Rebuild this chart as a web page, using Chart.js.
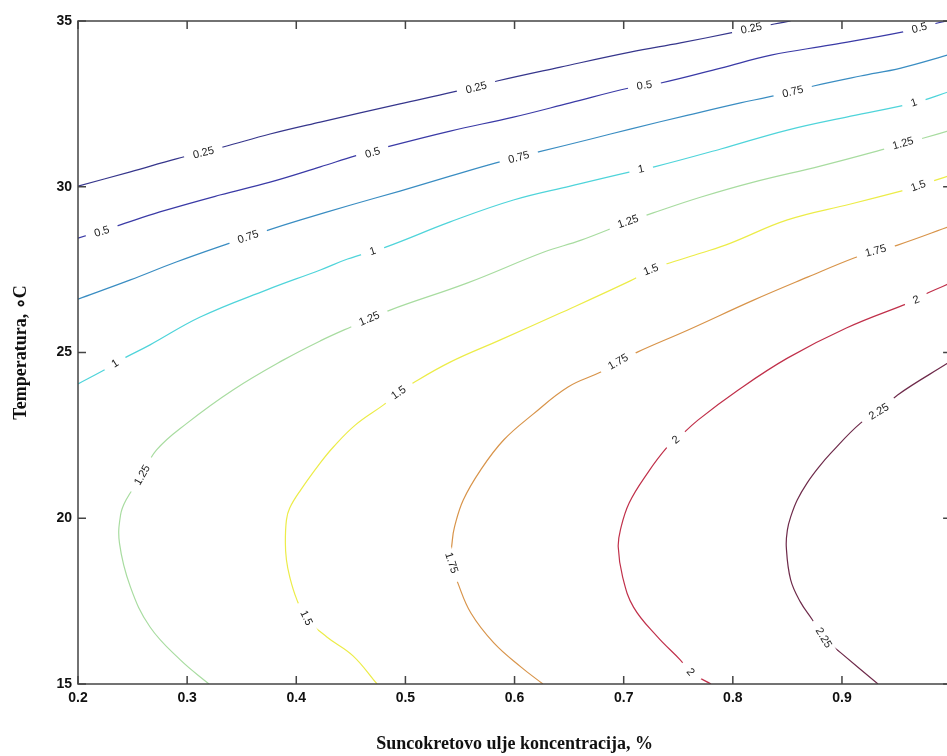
<!DOCTYPE html>
<html>
<head>
<meta charset="utf-8">
<script src="https://cdn.jsdelivr.net/npm/chart.js@4"></script>
<style>
  html, body { margin: 0; padding: 0; overflow: hidden; background: #fff; }
  canvas { display: block; }
</style>
</head>
<body>
<canvas id="myChart" width="961" height="756"></canvas>
<script>
// contour levels
var levels = ["0.25", "0.5", "0.75", "1", "1.25", "1.5", "1.75", "2", "2.25"];

// line points [concentration, temperature]
var c025 = [[0.200,30.02],[0.248,30.45],[0.290,30.84],[0.333,31.20],[0.376,31.59],[0.422,31.95],[0.495,32.50],[0.544,32.86],[0.584,33.19],[0.642,33.61],[0.706,34.06],[0.752,34.34],[0.798,34.64],[0.838,34.91],[0.853,35.0]];
var c05 = [[0.200,28.45],[0.236,28.82],[0.275,29.24],[0.330,29.75],[0.376,30.14],[0.422,30.60],[0.454,30.93],[0.483,31.20],[0.541,31.68],[0.599,32.10],[0.651,32.53],[0.705,32.98],[0.734,33.13],[0.789,33.58],[0.835,33.97],[0.890,34.28],[0.956,34.67],[0.984,34.91],[1.0,35.03]];
var c075 = [[0.200,26.61],[0.248,27.19],[0.290,27.73],[0.339,28.30],[0.375,28.70],[0.404,29.00],[0.450,29.45],[0.495,29.87],[0.541,30.32],[0.583,30.72],[0.622,31.05],[0.670,31.44],[0.706,31.74],[0.759,32.16],[0.807,32.53],[0.833,32.71],[0.874,33.04],[0.917,33.34],[0.954,33.58],[1.0,34.00]];
var c1 = [[0.200,24.05],[0.229,24.56],[0.239,24.77],[0.266,25.23],[0.312,26.07],[0.373,26.89],[0.422,27.49],[0.447,27.82],[0.482,28.18],[0.541,28.94],[0.599,29.60],[0.651,30.02],[0.706,30.45],[0.728,30.60],[0.789,31.14],[0.850,31.71],[0.908,32.13],[0.966,32.53],[1.0,32.89]];
var c125 = [[0.320,15.0],[0.294,15.72],[0.266,16.72],[0.248,17.93],[0.238,19.25],[0.239,20.10],[0.244,20.55],[0.257,21.21],[0.272,22.06],[0.300,22.87],[0.342,23.87],[0.388,24.77],[0.422,25.35],[0.450,25.77],[0.486,26.28],[0.557,27.10],[0.627,28.03],[0.661,28.39],[0.704,28.94],[0.727,29.21],[0.771,29.69],[0.819,30.14],[0.881,30.63],[0.936,31.11],[0.975,31.47],[1.0,31.71]];
var c15 = [[0.474,15.0],[0.452,15.85],[0.428,16.42],[0.409,16.99],[0.400,17.59],[0.394,18.23],[0.391,18.74],[0.390,19.25],[0.391,19.95],[0.394,20.31],[0.404,20.85],[0.422,21.67],[0.434,22.15],[0.454,22.81],[0.480,23.42],[0.494,23.78],[0.507,24.08],[0.541,24.71],[0.587,25.38],[0.642,26.19],[0.706,27.16],[0.725,27.49],[0.739,27.67],[0.771,28.00],[0.798,28.30],[0.850,29.00],[0.908,29.48],[0.954,29.87],[0.970,30.02],[0.983,30.17],[1.0,30.35]];
var c175 = [[0.626,15.0],[0.606,15.51],[0.581,16.24],[0.560,17.14],[0.548,18.05],[0.542,18.65],[0.543,19.34],[0.545,19.74],[0.553,20.55],[0.569,21.46],[0.590,22.36],[0.617,23.14],[0.649,23.96],[0.679,24.41],[0.695,24.71],[0.713,25.02],[0.759,25.68],[0.819,26.58],[0.869,27.28],[0.911,27.85],[0.931,28.06],[0.951,28.24],[1.0,28.82]];
var c2 = [[0.780,15.0],[0.761,15.36],[0.752,15.72],[0.731,16.42],[0.709,17.32],[0.699,18.23],[0.695,19.13],[0.697,19.65],[0.705,20.46],[0.722,21.37],[0.740,22.15],[0.748,22.36],[0.768,22.96],[0.805,23.87],[0.850,24.83],[0.904,25.74],[0.961,26.49],[0.968,26.58],[0.979,26.80],[1.0,27.10]];
var c225 = [[0.933,15.0],[0.899,15.94],[0.883,16.39],[0.873,16.93],[0.862,17.47],[0.853,18.14],[0.849,19.13],[0.850,19.65],[0.853,20.04],[0.859,20.55],[0.868,21.06],[0.879,21.55],[0.890,21.97],[0.917,22.87],[0.934,23.21],[0.951,23.72],[0.997,24.68],[1.0,24.74]];

// where the inline labels sit
var l025 = [[0.315,31.02],[0.565,32.98],[0.817,34.77]];
var l05 = [[0.222,28.64],[0.470,31.02],[0.719,33.05],[0.971,34.78]];
var l075 = [[0.356,28.48],[0.604,30.88],[0.855,32.86]];
var l1 = [[0.234,24.66],[0.470,28.05],[0.716,30.52],[0.966,32.53]];
var l125 = [[0.259,21.30],[0.467,26.01],[0.704,28.94],[0.956,31.30]];
var l15 = [[0.409,16.99],[0.494,23.78],[0.725,27.49],[0.970,30.02]];
var l175 = [[0.542,18.65],[0.695,24.71],[0.931,28.06]];
var l2 = [[0.761,15.36],[0.748,22.36],[0.968,26.58]];
var l225 = [[0.883,16.39],[0.934,23.21]];

var xTicks = [0.2, 0.3, 0.4, 0.5, 0.6, 0.7, 0.8, 0.9, 1];
var yTicks = [15, 20, 25, 30, 35];

var lines = [c025, c05, c075, c1, c125, c15, c175, c2, c225];
var labelSpots = [l025, l05, l075, l1, l125, l15, l175, l2, l225];
var colors = ["#36368c", "#3a3aa6", "#3a8dc2", "#4fd4da", "#a8dca0", "#ecec48", "#d8944a", "#c0304a", "#6e2a4a"];

var datasets = lines.map(function (pts, i) {
  return {
    label: levels[i],
    data: pts.map(function (p) { return { x: p[0], y: p[1] }; }),
    showLine: true,
    borderColor: colors[i],
    backgroundColor: colors[i],
    borderWidth: 1.2,
    pointRadius: 0,
    tension: 0.4
  };
});

// MATLAB-style box with ticks pointing inward
var frame = {
  id: "frame",
  afterDraw: function (chart) {
    var c = chart.ctx, a = chart.chartArea;
    var xs = chart.scales.x, ys = chart.scales.y;
    c.save();
    c.strokeStyle = "#444";
    c.lineWidth = 1.5;
    c.strokeRect(a.left, a.top, a.right - a.left, a.bottom - a.top);
    c.beginPath();
    xTicks.forEach(function (v) {
      var px = xs.getPixelForValue(v);
      c.moveTo(px, a.bottom); c.lineTo(px, a.bottom - 8);
      c.moveTo(px, a.top); c.lineTo(px, a.top + 8);
    });
    yTicks.forEach(function (v) {
      var py = ys.getPixelForValue(v);
      c.moveTo(a.left, py); c.lineTo(a.left + 8, py);
      c.moveTo(a.right, py); c.lineTo(a.right - 8, py);
    });
    c.stroke();
    c.restore();
  }
};

// inline contour labels (clabel look)
var clabels = {
  id: "clabels",
  afterDatasetsDraw: function (chart) {
    var c = chart.ctx, a = chart.chartArea;
    var xs = chart.scales.x, ys = chart.scales.y;
    c.save();
    c.beginPath();
    c.rect(a.left, a.top, a.right - a.left, a.bottom - a.top);
    c.clip();
    c.font = "11px 'Liberation Sans', Arial, sans-serif";
    c.textAlign = "center";
    c.textBaseline = "middle";
    labelSpots.forEach(function (spots, i) {
      var pix = lines[i].map(function (p) { return [xs.getPixelForValue(p[0]), ys.getPixelForValue(p[1])]; });
      spots.forEach(function (s) {
        var px = xs.getPixelForValue(s[0]), py = ys.getPixelForValue(s[1]);
        var best = 0, bd = 1e9;
        for (var k = 0; k < pix.length - 1; k++) {
          var mx = (pix[k][0] + pix[k + 1][0]) / 2, my = (pix[k][1] + pix[k + 1][1]) / 2;
          var d = (mx - px) * (mx - px) + (my - py) * (my - py);
          if (d < bd) { bd = d; best = k; }
        }
        var ang = Math.atan2(pix[best + 1][1] - pix[best][1], pix[best + 1][0] - pix[best][0]);
        if (ang > Math.PI / 2) ang -= Math.PI;
        if (ang <= -Math.PI / 2) ang += Math.PI;
        var w = c.measureText(levels[i]).width;
        c.save();
        c.translate(px, py);
        c.rotate(ang);
        c.fillStyle = "#fff";
        c.fillRect(-w / 2 - 9, -5, w + 18, 10);
        c.fillStyle = "#222";
        c.fillText(levels[i], 0, 0);
        c.restore();
      });
    });
    c.restore();
  }
};

var tickFont = { family: "'Liberation Sans', Arial, sans-serif", size: 14, weight: "bold" };
var titleFont = { family: "'Liberation Serif', 'Times New Roman', serif", size: 18, weight: "bold" };

new Chart("myChart", {
  type: "scatter",
  data: { datasets: datasets },
  options: {
    responsive: false,
    animation: false,
    events: [],
    layout: { padding: { top: 21, right: 6, left: 0, bottom: 0 } },
    plugins: {
      legend: { display: false },
      tooltip: { enabled: false }
    },
    scales: {
      x: {
        type: "linear",
        min: 0.2,
        max: 1.0,
        afterFit: function (s) { s.height = 72; },
        afterBuildTicks: function (s) { s.ticks = xTicks.map(function (v) { return { value: v }; }); },
        grid: { display: false, drawTicks: false },
        border: { display: false },
        ticks: {
          padding: 6,
          color: "#111",
          font: tickFont,
          maxRotation: 0,
          autoSkip: false,
          callback: function (v) { return String(Math.round(v * 10) / 10); }
        },
        title: {
          display: true,
          text: "Suncokretovo ulje koncentracija, %",
          color: "#111",
          font: titleFont,
          padding: { top: 0, bottom: 1 }
        }
      },
      y: {
        type: "linear",
        min: 15,
        max: 35,
        afterFit: function (s) { s.width = 78; },
        afterBuildTicks: function (s) { s.ticks = yTicks.map(function (v) { return { value: v }; }); },
        grid: { display: false, drawTicks: false },
        border: { display: false },
        ticks: {
          padding: 6,
          color: "#111",
          font: tickFont,
          callback: function (v) { return String(v); }
        },
        title: {
          display: true,
          text: "Temperatura, ∘C",
          color: "#111",
          font: titleFont,
          padding: { top: 11, bottom: 0 }
        }
      }
    }
  },
  plugins: [frame, clabels]
});
</script>
</body>
</html>
